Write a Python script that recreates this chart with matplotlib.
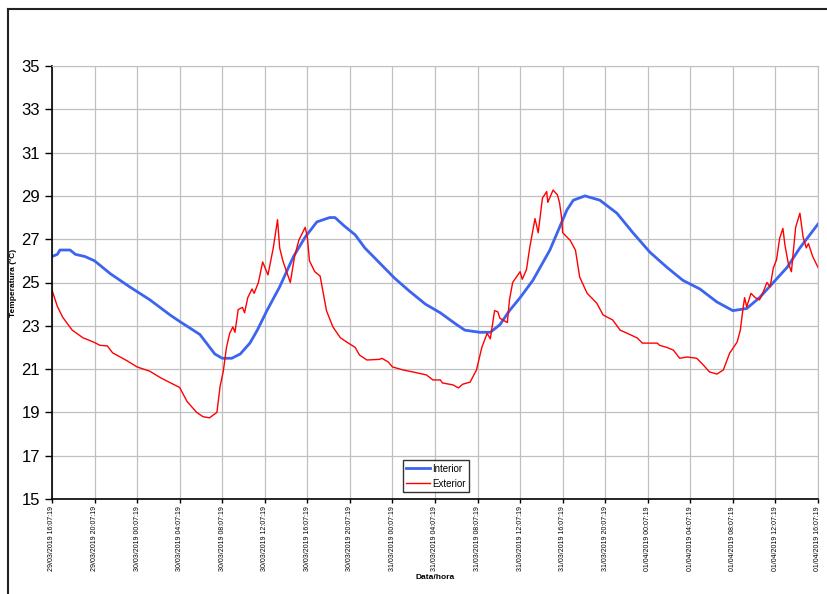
from datetime import datetime, timedelta

import matplotlib
matplotlib.use("Agg")
import matplotlib.pyplot as plt
from matplotlib.lines import Line2D
import numpy as np

plt.rcParams.update({"font.family": ["Liberation Sans", "DejaVu Sans"]})

START = datetime(2019, 3, 29, 16, 7, 19)

# hours since START, temperature (ºC)
interior_h = [0, 0.5, 0.75, 1.7, 2.2, 3.1, 4.0, 5.5, 7.3, 9.2, 11.1, 12.0, 13.9,
              15.3, 16.0, 16.9, 17.7, 18.6, 19.3, 20.2, 21.4, 22.7, 23.8, 24.9,
              26.1, 26.6, 27.5, 28.5, 29.4, 30.8, 32.2, 33.6, 35.1, 36.5, 37.9,
              38.8, 40.2, 41.2, 42.1, 43.0, 44.0, 45.2, 46.8, 48.4, 49.0, 50.1,
              51.5, 53.1, 54.6, 56.2, 57.8, 59.3, 60.9, 62.5, 64.0, 65.3, 66.5,
              67.8, 69.1, 70.3, 72.0]
interior_t = [26.2, 26.3, 26.5, 26.5, 26.3, 26.2, 26.0, 25.4, 24.8, 24.2, 23.5, 23.2, 22.6,
              21.7, 21.5, 21.5, 21.7, 22.2, 22.8, 23.7, 24.8, 26.2, 27.1, 27.8,
              28.0, 28.0, 27.6, 27.2, 26.6, 25.9, 25.2, 24.6, 24.0, 23.6, 23.1,
              22.8, 22.7, 22.7, 23.05, 23.7, 24.3, 25.1, 26.5, 28.35, 28.8, 29.0,
              28.8, 28.2, 27.3, 26.4, 25.7, 25.1, 24.7, 24.1, 23.7, 23.8, 24.3,
              25.0, 25.7, 26.6, 27.7]

exterior_h = [0, 0.5, 1.0, 1.9, 2.9, 3.9, 4.5, 5.2, 5.7, 7.0, 8.0, 9.2, 10.2, 11.4,
              12.0, 12.7, 13.6, 14.2, 14.8, 15.5, 15.8, 16.1, 16.4, 16.7, 17.0,
              17.2, 17.5, 17.9, 18.1, 18.4, 18.8, 19.0, 19.4, 19.8, 20.3, 20.8,
              21.2, 21.4, 21.7, 22.4, 22.8, 23.2, 23.8, 24.0, 24.2, 24.7, 25.2,
              25.8, 26.4, 27.1, 27.7, 28.5, 28.9, 29.6, 30.8, 31.0, 31.6, 32.0,
              33.0, 33.9, 35.2, 35.8, 36.5, 36.7, 37.7, 38.2, 38.6, 39.3, 39.9,
              40.4, 40.9, 41.2, 41.6, 41.9, 42.1, 42.8, 43.0, 43.3, 44.0, 44.2,
              44.6, 44.9, 45.4, 45.7, 46.1, 46.5, 46.6, 47.1, 47.5, 47.7, 47.9,
              48.0, 48.7, 49.2, 49.6, 50.3, 51.2, 51.8, 52.7, 53.4, 54.0, 55.0,
              55.5, 56.9, 57.1, 57.8, 58.4, 59.0, 59.7, 60.6, 61.2, 61.8, 62.5,
              63.1, 63.7, 64.4, 64.7, 64.9, 65.1, 65.3, 65.7, 66.1, 66.5, 66.8,
              67.2, 67.5, 67.8, 68.1, 68.4, 68.7, 68.9, 69.2, 69.5, 69.9, 70.3,
              70.6, 70.9, 71.1, 71.5, 72.0]
exterior_t = [24.65, 23.9, 23.4, 22.8, 22.45, 22.25, 22.1, 22.07, 21.75, 21.4, 21.1, 20.9, 20.6, 20.3,
              20.15, 19.5, 19.0, 18.8, 18.75, 19.0, 20.2, 20.9, 22.0, 22.65, 22.95,
              22.7, 23.75, 23.85, 23.6, 24.3, 24.7, 24.5, 25.0, 25.95, 25.35, 26.6,
              27.9, 26.6, 26.0, 25.0, 26.2, 26.95, 27.55, 27.1, 26.0, 25.5, 25.3,
              23.7, 22.95, 22.45, 22.25, 22.0, 21.65, 21.42, 21.45, 21.5, 21.33, 21.1,
              20.96, 20.87, 20.73, 20.5, 20.5, 20.36, 20.27, 20.13, 20.3, 20.4, 20.96,
              22.0, 22.65, 22.4, 23.7, 23.65, 23.35, 23.15, 24.2, 25.0, 25.5, 25.15,
              25.6, 26.6, 27.95, 27.3, 28.9, 29.2, 28.7, 29.27, 29.05, 28.7, 28.0,
              27.3, 26.95, 26.5, 25.25, 24.5, 24.05, 23.5, 23.27, 22.8, 22.67, 22.44,
              22.2, 22.2, 22.1, 22.0, 21.88, 21.5, 21.56, 21.5, 21.2, 20.87, 20.77,
              20.96, 21.74, 22.25, 22.8, 23.6, 24.3, 23.87, 24.5, 24.3, 24.2, 24.5,
              25.0, 24.8, 25.67, 26.05, 27.05, 27.5, 26.7, 25.9, 25.5, 27.55, 28.2,
              27.1, 26.6, 26.8, 26.2, 25.7]

tick_hours = np.arange(0, 73, 4)
tick_labels = [(START + timedelta(hours=int(h))).strftime("%d/%m/%Y %H:%M:%S")
               for h in tick_hours]

BLUE = "#3c64f0"
RED = "#ff0000"
GRID = "#c0c0c0"

fig = plt.figure(figsize=(8.28, 5.94), dpi=100)
ax = fig.add_axes([52 / 828, 95 / 594, 766 / 828, 433 / 594])

ax.plot(interior_h, interior_t, color=BLUE, lw=2.0, label="Interior")
ax.plot(exterior_h, exterior_t, color=RED, lw=1.0, label="Exterior")

ax.set_xlim(0, 72)
ax.set_ylim(15, 35)
ax.set_yticks(np.arange(15, 36, 2))
ax.set_xticks(tick_hours)
ax.set_xticklabels(tick_labels, rotation=90, fontsize=5)
ax.tick_params(axis="y", labelsize=12, direction="out", length=5, width=1)
ax.tick_params(axis="x", direction="out", length=3, width=1, pad=2)
ax.grid(True, color=GRID, lw=0.9)
ax.set_axisbelow(True)
for side in ("top", "right"):
    ax.spines[side].set_color(GRID)
for side in ("left", "bottom"):
    ax.spines[side].set_linewidth(1.2)

ax.set_ylabel("Temperatura (ºC)", fontsize=6, fontweight="bold", labelpad=3)
ax.set_xlabel("Data/hora", fontsize=6, fontweight="bold", labelpad=2)

leg = ax.legend(loc="lower left", bbox_to_anchor=(0.458, 0.016), fontsize=7,
                frameon=True, fancybox=False, handlelength=2.4,
                borderpad=0.35, labelspacing=0.5, handletextpad=0.25,
                borderaxespad=0)
leg.get_frame().set_edgecolor("black")
leg.get_frame().set_linewidth(1.0)

# outer chart frame
fig.add_artist(Line2D([8 / 828, 8 / 828], [0, 1 - 9 / 594], color="#222222", lw=1.5,
                      transform=fig.transFigure))
fig.add_artist(Line2D([8 / 828, 1], [1 - 9 / 594, 1 - 9 / 594], color="#222222", lw=1.5,
                      transform=fig.transFigure))

fig.savefig("out.png", dpi=100)
